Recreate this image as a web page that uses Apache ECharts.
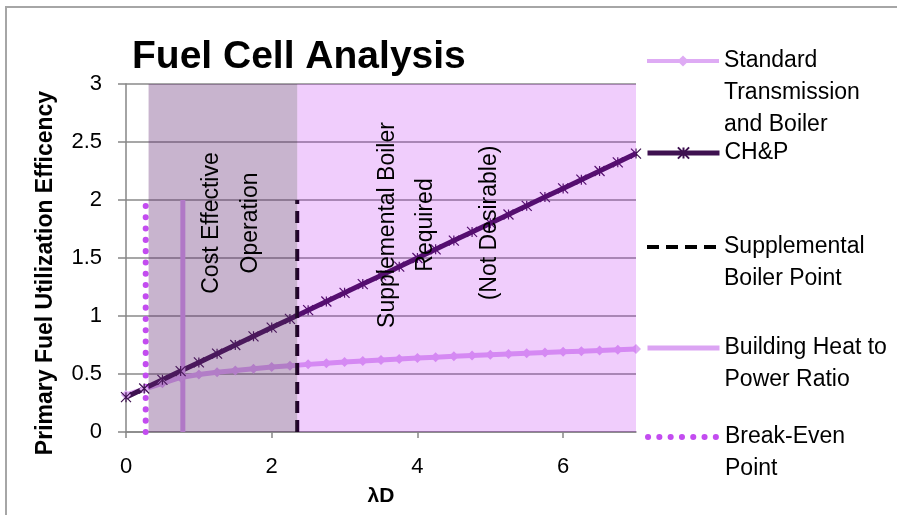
<!DOCTYPE html>
<html>
<head>
<meta charset="utf-8">
<script src="https://cdn.jsdelivr.net/npm/echarts@6/dist/echarts.min.js"></script>
<style>
  html, body { margin: 0; padding: 0; background: #fff; }
  #chart { width: 897px; height: 515px; }
</style>
</head>
<body>
<div id="chart"></div>
<script>
// λD values for the two efficiency curves
const lambdaD = [0, 0.25, 0.5, 0.75, 1, 1.25, 1.5, 1.75, 2, 2.25, 2.5, 2.75, 3, 3.25, 3.5,
                 3.75, 4, 4.25, 4.5, 4.75, 5, 5.25, 5.5, 5.75, 6, 6.25, 6.5, 6.75, 7];
const standardEff = [0.32, 0.37, 0.42, 0.47, 0.495, 0.515, 0.53, 0.545, 0.56, 0.572, 0.583, 0.593,
                     0.603, 0.612, 0.621, 0.629, 0.637, 0.645, 0.652, 0.659, 0.666, 0.673, 0.679,
                     0.685, 0.691, 0.697, 0.703, 0.709, 0.715];
const chpEff = [0.3, 0.375, 0.45, 0.525, 0.6, 0.675, 0.75, 0.825, 0.9, 0.975, 1.05, 1.125, 1.2,
                1.275, 1.35, 1.425, 1.5, 1.575, 1.65, 1.725, 1.8, 1.875, 1.95, 2.025, 2.1, 2.175,
                2.25, 2.325, 2.4];
// vertical marker lines: x position, drawn from y 0 to 2
const markerLineY = [0, 2];
const supplementalX = 2.35;
const buildingHeatX = 0.78;
const breakEvenX = 0.27;
// shaded regions [start, end]
const regionRanges = [[0.31, 2.35], [2.35, 7]];
const yTicks = { min: 0, max: 3, interval: 0.5 };
const xTicks = { min: 0, max: 7, interval: 2 };

const FONT = '"Liberation Sans", Arial, sans-serif';
const LH = 32;

const legendItems = [
  { name: 'Standard Transmission and Boiler', label: 'Standard\nTransmission\nand Boiler', iconY: 61, width: 4 },
  { name: 'CH&P', label: 'CH&P', iconY: 153, width: 5 },
  { name: 'Supplemental Boiler Point', label: 'Supplemental\nBoiler Point', iconY: 247, width: 4 },
  { name: 'Building Heat to Power Ratio', label: 'Building Heat to\nPower Ratio', iconY: 348, width: 5 },
  { name: 'Break-Even Point', label: 'Break-Even\nPoint', iconY: 437, width: 6 }
];

// the icon sits level with the first text line, so pad the label with blank lines above
const legends = legendItems.map(item => {
  const n = item.label.split('\n').length;
  return {
    orient: 'vertical',
    left: 645,
    top: item.iconY - (2 * n - 1) * LH / 2,
    padding: 0,
    itemWidth: 72,
    itemHeight: 14,
    selectedMode: false,
    data: [item.name],
    formatter: () => '\n'.repeat(n - 1) + item.label,
    lineStyle: { width: item.width },
    textStyle: { fontFamily: FONT, fontSize: 23, color: '#000', lineHeight: LH }
  };
});

const regionFills = ['rgba(98, 41, 115, 0.35)', 'rgba(180, 5, 240, 0.2)'];
const noMarker = { color: 'rgba(0,0,0,0)', borderWidth: 0 };

const chart = echarts.init(document.getElementById('chart'));
const option = {
  animation: false,
  backgroundColor: '#fff',
  title: {
    text: 'Fuel Cell Analysis',
    left: 132,
    top: 38,
    padding: 0,
    textStyle: { fontFamily: FONT, fontSize: 39, fontWeight: 'bold', color: '#000' }
  },
  legend: legends,
  grid: { left: 126, right: 261, top: 84, bottom: 83 },
  xAxis: {
    type: 'value',
    min: xTicks.min, max: xTicks.max, interval: xTicks.interval,
    name: 'λD',
    nameLocation: 'middle',
    nameGap: 54,
    nameTextStyle: { fontFamily: FONT, fontSize: 21, fontWeight: 'bold', color: '#000' },
    axisLine: { show: true, lineStyle: { color: '#868686', width: 1.5 } },
    axisTick: { show: true, length: 6, lineStyle: { color: '#868686', width: 1.5 } },
    axisLabel: { fontFamily: FONT, fontSize: 22, color: '#000', margin: 24, showMaxLabel: false },
    splitLine: { show: false }
  },
  yAxis: {
    type: 'value',
    min: yTicks.min, max: yTicks.max, interval: yTicks.interval,
    axisLine: { show: true, lineStyle: { color: '#868686', width: 1.5 } },
    axisTick: { show: true, length: 8, lineStyle: { color: '#868686', width: 1.5 } },
    axisLabel: { fontFamily: FONT, fontSize: 22, color: '#000', margin: 24 },
    splitLine: { show: true, lineStyle: { color: '#8a8a8a', width: 1.5 } }
  },
  series: [
    {
      name: 'Standard Transmission and Boiler',
      type: 'line',
      data: lambdaD.map((x, i) => [x, standardEff[i]]),
      symbol: 'diamond',
      symbolSize: 10,
      lineStyle: { color: '#deabf4', width: 5 },
      itemStyle: { color: '#deabf4' }
    },
    {
      name: 'CH&P',
      type: 'line',
      data: lambdaD.map((x, i) => [x, chpEff[i]]),
      symbol: 'path://M0,0L10,10M10,0L0,10M5,0L5,10',
      symbolSize: 10,
      lineStyle: { color: '#3e1150', width: 5 },
      itemStyle: { color: '#3e1150', borderColor: '#3e1150', borderWidth: 1.2 }
    },
    {
      name: 'Supplemental Boiler Point',
      type: 'line',
      data: markerLineY.map(y => [supplementalX, y]),
      symbol: 'none',
      symbolSize: 0,
      itemStyle: noMarker,
      lineStyle: { color: '#000', width: 4, type: [12, 7] }
    },
    {
      name: 'Building Heat to Power Ratio',
      type: 'line',
      data: markerLineY.map(y => [buildingHeatX, y]),
      symbol: 'none',
      symbolSize: 0,
      itemStyle: noMarker,
      lineStyle: { color: '#dba4f3', width: 5 }
    },
    {
      name: 'Break-Even Point',
      type: 'line',
      data: markerLineY.map(y => [breakEvenX, y]),
      symbol: 'none',
      symbolSize: 0,
      itemStyle: noMarker,
      lineStyle: { color: '#c34cf0', width: 6, type: [0.1, 11.2], cap: 'round' }
    },
    {
      // shaded operating regions, laid over the lines like the original
      type: 'custom',
      z: 10,
      silent: true,
      data: regionRanges,
      encode: { x: [0, 1] },
      renderItem: (params, api) => {
        const p0 = api.coord([api.value(0), yTicks.max]);
        const p1 = api.coord([api.value(1), yTicks.min]);
        return {
          type: 'rect',
          shape: { x: p0[0], y: p0[1], width: p1[0] - p0[0], height: p1[1] - p0[1] },
          style: { fill: regionFills[params.dataIndex] }
        };
      }
    }
  ],
  graphic: [
    {
      type: 'rect', z: -1, silent: true,
      shape: { x: 6, y: 7, width: 1000, height: 1000 },
      style: { fill: null, stroke: '#a6a6a6', lineWidth: 2 }
    },
    {
      type: 'text', z: 100, x: 46, y: 273, rotation: Math.PI / 2,
      style: {
        text: 'Primary Fuel Utilization Efficency', fontFamily: FONT, fontSize: 23,
        fontWeight: 'bold', fill: '#000', align: 'center', verticalAlign: 'middle'
      }
    },
    {
      type: 'text', z: 100, x: 231, y: 223, rotation: Math.PI / 2,
      style: {
        text: 'Cost Effective\nOperation', fontFamily: FONT, fontSize: 23, lineHeight: 39,
        fill: '#000', align: 'center', verticalAlign: 'middle'
      }
    },
    {
      type: 'text', z: 100, x: 407, y: 225, rotation: Math.PI / 2,
      style: {
        text: 'Supplemental Boiler\nRequired', fontFamily: FONT, fontSize: 23, lineHeight: 38,
        fill: '#000', align: 'center', verticalAlign: 'middle'
      }
    },
    {
      type: 'text', z: 100, x: 490, y: 223, rotation: Math.PI / 2,
      style: {
        text: '(Not Desirable)', fontFamily: FONT, fontSize: 23,
        fill: '#000', align: 'center', verticalAlign: 'middle'
      }
    }
  ]
};

chart.setOption(option);
</script>
</body>
</html>
